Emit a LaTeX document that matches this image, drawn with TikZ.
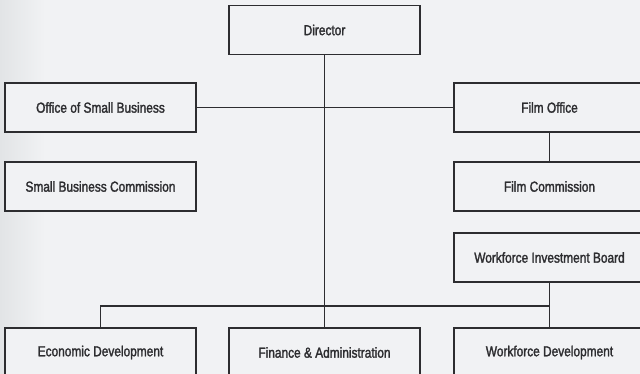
\documentclass[tikz,border=0pt]{standalone}
\usepackage{fontspec}
\setmainfont{Liberation Sans}[FakeStretch=0.82,FakeBold=1.8]
\usepackage{tikz}
\usetikzlibrary{positioning,calc}
\definecolor{paper}{RGB}{241,242,244}
\definecolor{paperedge}{RGB}{226,228,230}
\definecolor{ink}{RGB}{45,45,48}
\tikzset{
  unit/.style={draw=ink, line width=1.2pt, rectangle, minimum width=191pt, minimum height=49pt, align=center, fill=paper, text=ink, font=\fontsize{14.5}{17}\selectfont},
  link/.style={draw=ink, line width=1.1pt}
}
\begin{document}
\begin{tikzpicture}[x=1pt,y=-1pt]
  \clip (0,0) rectangle (640,374);
  \fill[paper] (0,0) rectangle (640,374);
  \shade[left color=paperedge, right color=paper] (0,0) rectangle (45,374);
  % top row and side offices
  \node[unit] (director) at (324.5,30) {Director};
  \node[unit] (osb) at (100.5,107.5) {Office of Small Business};
  \node[unit] (sbc) at (100.5,186.5) {Small Business Commission};
  \node[unit] (film) at (549.5,107.5) {Film Office};
  \node[unit] (filmc) at (549.5,186.5) {Film Commission};
  \node[unit] (wib) at (549.5,257.5) {Workforce Investment Board};
  % divisions
  \node[unit] (econ) at (100.5,352.5) {Economic Development};
  \node[unit] (fin) at (324.5,352.5) {Finance \& Administration};
  \node[unit] (wfd) at (549.5,352.5) {Workforce Development};
  \coordinate (bus) at (549.5,306);
  \draw[link] (director.south) -- (fin.north);
  \draw[link] (osb.east) -- (film.west);
  \draw[link] (film.south) -- (filmc.north);
  \draw[link] (wib.south) -- (wfd.north);
  \draw[link] (econ.north) |- (bus);
\end{tikzpicture}
\end{document}
